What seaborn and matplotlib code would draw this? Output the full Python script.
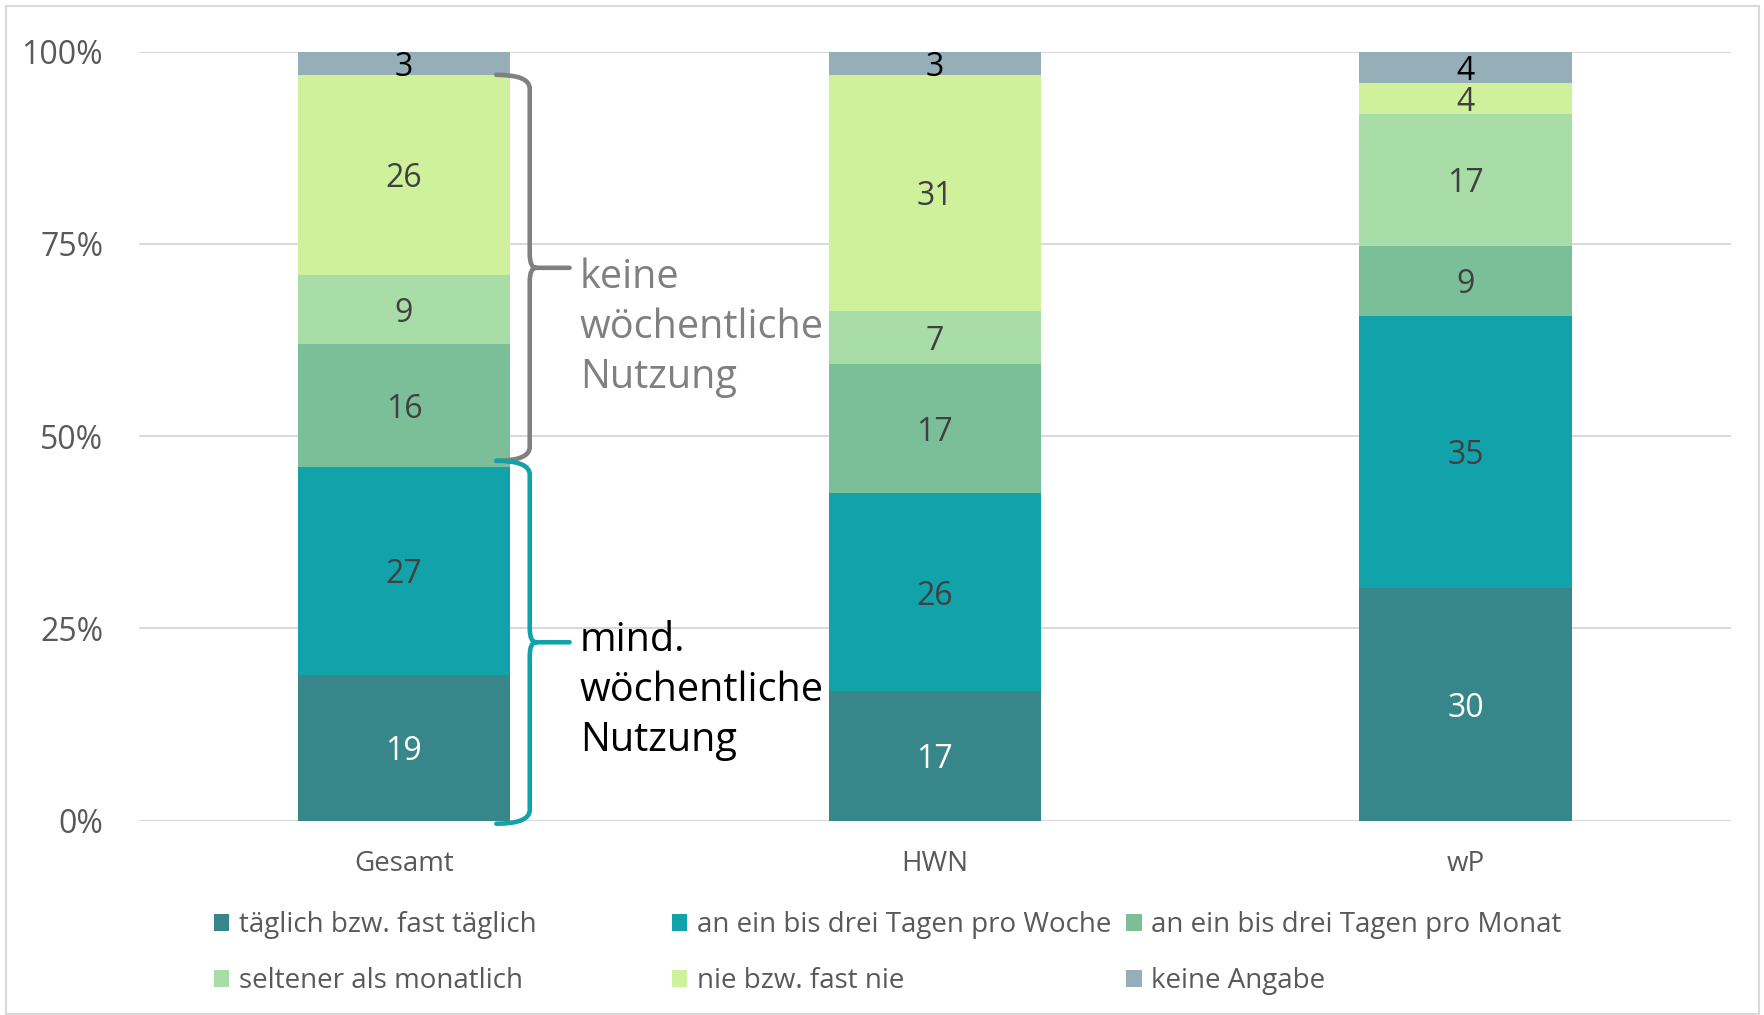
import numpy as np
import pandas as pd
import matplotlib
matplotlib.use("Agg")
import matplotlib.pyplot as plt
import seaborn as sns
from matplotlib.path import Path
from matplotlib.patches import PathPatch, Patch, Rectangle

# ---------------- data ----------------
groups = ["Gesamt", "HWN", "wP"]
categories = ["täglich bzw. fast täglich", "an ein bis drei Tagen pro Woche",
              "an ein bis drei Tagen pro Monat", "seltener als monatlich",
              "nie bzw. fast nie", "keine Angabe"]
taeglich = [19, 17, 30]
woche = [27, 26, 35]
monat = [16, 17, 9]
seltener = [9, 7, 17]
nie = [26, 31, 4]
keine = [3, 3, 4]
yticks = [0, 25, 50, 75, 100]
ytick_labels = ["0%", "25%", "50%", "75%", "100%"]
brace_labels = ["keine\nwöchentliche\nNutzung", "mind.\nwöchentliche\nNutzung"]

# ---------------- style ----------------
colors = ["#37868A", "#12A2AA", "#7ABF98", "#A8DDA8", "#CFF19C", "#95AEB8"]
label_colors = ["white", "#404040", "#404040", "#404040", "#404040", "black"]
tick_color = "#595959"
grid_color = "#D9D9D9"

sns.set_theme(style="white")
plt.rcParams["font.family"] = ["Open Sans", "DejaVu Sans"]

values = np.array([taeglich, woche, monat, seltener, nie, keine], dtype=float)
shares = values / values.sum(axis=0) * 100
cum = shares.cumsum(axis=0)

fig = plt.figure(figsize=(17.65, 10.15), dpi=100)
ax = fig.add_axes([0.0785, 0.1915, 0.9022, 0.7575])

# stacked bars: draw cumulative totals from top segment down
for i in range(len(categories) - 1, -1, -1):
    df = pd.DataFrame({"Gruppe": groups, "Anteil": cum[i]})
    sns.barplot(data=df, x="Gruppe", y="Anteil", color=colors[i], saturation=1,
                width=0.4, errorbar=None, ax=ax, linewidth=0, zorder=2)

# value labels
for i in range(len(categories)):
    for j in range(len(groups)):
        ax.text(j, cum[i, j] - shares[i, j] / 2, f"{int(values[i, j])}",
                ha="center", va="center_baseline", fontsize=23,
                color=label_colors[i], zorder=3)

ax.set_ylim(0, 100)
ax.set_xlim(-0.5, len(groups) - 0.5)
ax.set_yticks(yticks)
ax.set_yticklabels(ytick_labels)
ax.set_xlabel("")
ax.set_ylabel("")
ax.yaxis.grid(True, color=grid_color, linewidth=1.4, zorder=0)
ax.set_axisbelow(True)
for s in ax.spines.values():
    s.set_visible(False)
ax.tick_params(axis="y", length=0, pad=25.5, labelsize=23, labelcolor=tick_color)
ax.tick_params(axis="x", length=0, pad=21.5, labelsize=20, labelcolor=tick_color)


# braces
def brace(ax, x0, xv, xt, y0, y1, color, dy=1.8):
    ym = (y0 + y1) / 2
    dxc = 0.012
    verts = [(x0, y1), (xv, y1), (xv, y1 - dy),
             (xv, ym + dy),
             (xv, ym), (xv + dxc, ym),
             (xt, ym),
             (xv + dxc, ym), (xv, ym), (xv, ym - dy),
             (xv, y0 + dy),
             (xv, y0), (x0, y0)]
    codes = [Path.MOVETO, Path.CURVE3, Path.CURVE3,
             Path.LINETO,
             Path.CURVE3, Path.CURVE3,
             Path.LINETO,
             Path.MOVETO, Path.CURVE3, Path.CURVE3,
             Path.LINETO,
             Path.CURVE3, Path.CURVE3]
    p = PathPatch(Path(verts, codes), facecolor="none", edgecolor=color,
                  linewidth=3.3, capstyle="round", joinstyle="round",
                  clip_on=False, zorder=4)
    ax.add_patch(p)


x0, xv, xt = 0.174, 0.237, 0.312
brace(ax, x0, xv, xt, cum[1, 0] + 0.8, cum[4, 0], "#808080")
brace(ax, x0, xv, xt, -0.4, cum[1, 0] + 0.8, colors[1])

gray_mid = (cum[1, 0] + cum[4, 0]) / 2
teal_mid = cum[1, 0] / 2
ax.text(0.331, gray_mid + 1.7, brace_labels[0], ha="left", va="top", fontsize=28.5,
        color="#808080", linespacing=1.3, zorder=4)
ax.text(0.331, teal_mid + 3.0, brace_labels[1], ha="left", va="top", fontsize=28.5,
        color="black", linespacing=1.3, zorder=4)

# legend in three fixed-width columns, two rows (row-major order)
handles = [Patch(facecolor=c, edgecolor="none") for c in colors]
col_x = [0.1212, 0.3807, 0.638]
for k in range(3):
    hs = [handles[k], handles[k + 3]]
    ls = [categories[k], categories[k + 3]]
    leg = fig.legend(hs, ls, loc="center left", bbox_to_anchor=(col_x[k], 0.0608),
                     frameon=False, fontsize=20, handlelength=0.56, handleheight=0.56,
                     handletextpad=0.33, labelspacing=1.02, borderpad=0, borderaxespad=0)
    for t in leg.get_texts():
        t.set_color(tick_color)

# outer chart border
fig.add_artist(Rectangle((0.0032, 0.001), 0.9935, 0.9935, transform=fig.transFigure,
                         fill=False, edgecolor=grid_color, linewidth=1.5))

fig.savefig("out.png", dpi=100)
